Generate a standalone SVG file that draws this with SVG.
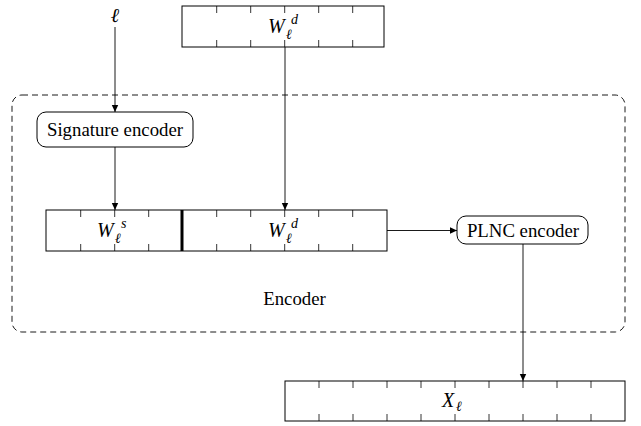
<svg xmlns="http://www.w3.org/2000/svg" width="641" height="426" viewBox="0 0 641 426">
<defs>
<marker id="ah" markerWidth="8" markerHeight="8" refX="7" refY="4" orient="auto" markerUnits="userSpaceOnUse">
<path d="M0,0.8 L7,4 L0,7.2 Z" fill="#000"/>
</marker>
<style>
.box{fill:#fff;stroke:#000;stroke-width:1}
.tick{stroke:#000;stroke-width:0.8}
.conn{stroke:#000;stroke-width:0.9;fill:none;marker-end:url(#ah)}
.t{font-family:'Liberation Serif','DejaVu Serif',serif;font-size:18.8px;fill:#000}
.m{font-family:'Liberation Serif','DejaVu Serif',serif;font-style:italic;fill:#000}
.big{font-size:20px}
.sc{font-size:14px}
</style>
</defs>
<rect width="641" height="426" fill="#fff"/>
<g id="encoder-frame">
<rect x="12" y="95" width="613" height="237" rx="10" fill="none" stroke="#000" stroke-width="0.9" stroke-dasharray="6,4"/>
<text class="t" x="294.5" y="305" text-anchor="middle">Encoder</text>
</g>
<g id="ell">
<text class="m big" x="115" y="22" text-anchor="middle">ℓ</text>
</g>
<g id="Wd-top">
<rect class="box" x="182" y="6" width="202" height="41"/>
<path class="tick" d="M216.7,6v7M250.7,6v7M284.7,6v7M318.7,6v7M352.7,6v7M216.7,47v-7M250.7,47v-7M284.7,47v-7M318.7,47v-7M352.7,47v-7"/>
<text class="m big" x="268" y="33">W</text>
<text class="m sc" x="291" y="24">d</text>
<text class="m sc" x="286" y="39">ℓ</text>
</g>
<g id="signature-encoder">
<rect class="box" x="37" y="112" width="156" height="35" rx="9"/>
<text class="t" x="115" y="135.5" text-anchor="middle">Signature encoder</text>
</g>
<g id="W-combined">
<rect class="box" x="46" y="210" width="341" height="41"/>
<path class="tick" d="M80.7,210v7M114.7,210v7M148.7,210v7M216.7,210v7M250.7,210v7M284.7,210v7M318.7,210v7M352.7,210v7M80.7,251v-7M114.7,251v-7M148.7,251v-7M216.7,251v-7M250.7,251v-7M284.7,251v-7M318.7,251v-7M352.7,251v-7"/>
<line x1="182" y1="210" x2="182" y2="251" stroke="#000" stroke-width="3"/>
<text class="m big" x="97" y="237">W</text>
<text class="m sc" x="121" y="228">s</text>
<text class="m sc" x="115" y="243">ℓ</text>
<text class="m big" x="268" y="237">W</text>
<text class="m sc" x="291" y="228">d</text>
<text class="m sc" x="286" y="243">ℓ</text>
</g>
<g id="plnc-encoder">
<rect class="box" x="457" y="216" width="131" height="28" rx="9"/>
<text class="t" x="523" y="236.5" text-anchor="middle">PLNC encoder</text>
</g>
<g id="X-out">
<rect class="box" x="285" y="381" width="340" height="40"/>
<path class="tick" d="M319,381v7M353,381v7M387,381v7M421,381v7M455,381v7M489,381v7M523,381v7M557,381v7M591,381v7M319,421v-7M353,421v-7M387,421v-7M421,421v-7M455,421v-7M489,421v-7M523,421v-7M557,421v-7M591,421v-7"/>
<text class="m big" x="442" y="407" font-size="21">X</text>
<text class="m sc" x="456" y="411">ℓ</text>
</g>
<g id="connectors">
<path class="conn" d="M115,27V112"/>
<path class="conn" d="M115,147V210"/>
<path class="conn" d="M285,47V210"/>
<path class="conn" d="M387,230.5H457"/>
<path class="conn" d="M523,244V381"/>
</g>
</svg>
